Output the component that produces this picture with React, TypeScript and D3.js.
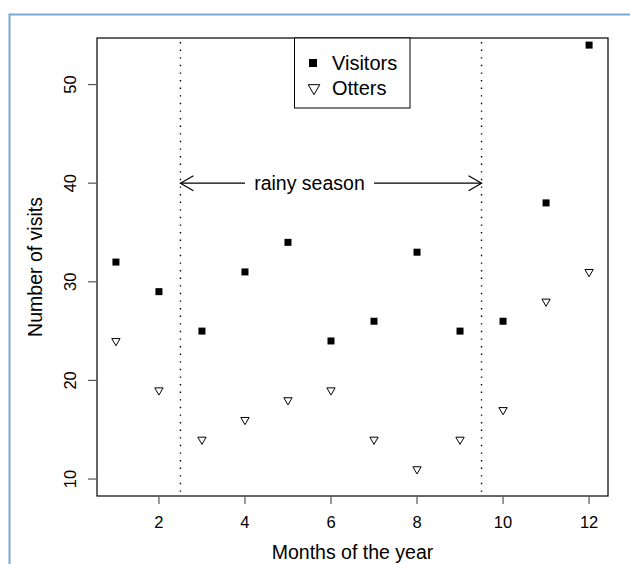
import React from 'react';
import * as d3 from 'd3';

const months = [1, 2, 3, 4, 5, 6, 7, 8, 9, 10, 11, 12];
const visitors = [32, 29, 25, 31, 34, 24, 26, 33, 25, 26, 38, 54];
const otters = [24, 19, 14, 16, 18, 19, 14, 11, 14, 17, 28, 31];
const xTicks = [2, 4, 6, 8, 10, 12];
const yTicks = [10, 20, 30, 40, 50];
const seasonBounds = [2.5, 9.5];

const width = 630;
const height = 564;
const font = '"Liberation Sans", Arial, Helvetica, sans-serif';

const App = () => {
  const margin = { top: 38, right: 22, bottom: 68, left: 97 };

  // R-style 4% padding around the data ranges
  const x = d3.scaleLinear().domain([0.56, 12.44]).range([margin.left, width - margin.right]);
  const y = d3.scaleLinear().domain([8.28, 54.72]).range([height - margin.bottom, margin.top]);

  const [x0, x1] = x.range();
  const [y0, y1] = y.range();

  const tri = d3.symbol().type(d3.symbolTriangle).size(30)();
  const legendTri = d3.symbol().type(d3.symbolTriangle).size(58)();
  const arrowY = y(40);

  const arrowHead = (tipX: number, dir: number) => {
    const len = 15;
    const ang = Math.PI / 6;
    const bx = tipX - dir * len * Math.cos(ang);
    const dy = len * Math.sin(ang);
    return `M${bx},${arrowY - dy}L${tipX},${arrowY}L${bx},${arrowY + dy}`;
  };

  return (
    <svg width={width} height={height} style={{ position: 'absolute', left: 0, top: 0, background: '#fff' }}
      fontFamily={font}>
      {/* frame */}
      <path d={`M9.5,${height}V14.5H${width}`} fill="none" stroke="#7ba7d3" strokeWidth={2} />

      {/* plot box */}
      <rect x={x0} y={y1} width={x1 - x0} height={y0 - y1} fill="none" stroke="#000" strokeWidth={1.2} />

      {/* season lines */}
      {seasonBounds.map((b) => (
        <line key={b} x1={x(b)} x2={x(b)} y1={y1 + 4} y2={y0} stroke="#000" strokeWidth={1.4}
          strokeDasharray="1.4 6.2" />
      ))}

      {/* arrows */}
      <line x1={x(4)} x2={x(2.5)} y1={arrowY} y2={arrowY} stroke="#000" strokeWidth={1.2} />
      <line x1={x(7)} x2={x(9.5)} y1={arrowY} y2={arrowY} stroke="#000" strokeWidth={1.2} />
      <path d={arrowHead(x(2.5), -1)} fill="none" stroke="#000" strokeWidth={1.2} />
      <path d={arrowHead(x(9.5), 1)} fill="none" stroke="#000" strokeWidth={1.2} />
      <text x={x(5.5)} y={arrowY} dy="0.35em" textAnchor="middle" fontSize={19.5}>rainy season</text>

      {/* x axis */}
      {xTicks.map((t) => (
        <g key={t}>
          <line x1={x(t)} x2={x(t)} y1={y0} y2={y0 + 8} stroke="#555" strokeWidth={1.2} />
          <text x={x(t)} y={y0 + 32} textAnchor="middle" fontSize={16.5}>{t}</text>
        </g>
      ))}
      <text x={(x0 + x1) / 2} y={559} textAnchor="middle" fontSize={19.5}>Months of the year</text>

      {/* y axis */}
      {yTicks.map((t) => (
        <g key={t}>
          <line x1={x0 - 9} x2={x0} y1={y(t)} y2={y(t)} stroke="#555" strokeWidth={1.2} />
          <text transform={`translate(${x0 - 21},${y(t)}) rotate(-90)`} textAnchor="middle" fontSize={16.5}>{t}</text>
        </g>
      ))}
      <text transform={`translate(42,${(y0 + y1) / 2}) rotate(-90)`} textAnchor="middle" fontSize={19.5}>
        Number of visits
      </text>

      {/* points */}
      {months.map((m, i) => (
        <rect key={`v${m}`} x={x(m) - 3.5} y={y(visitors[i]) - 3.5} width={7} height={7} fill="#000" />
      ))}
      {months.map((m, i) => (
        <path key={`o${m}`} d={tri} transform={`translate(${x(m)},${y(otters[i])}) rotate(180)`}
          fill="none" stroke="#000" strokeWidth={1} />
      ))}

      {/* legend */}
      <rect x={294.5} y={y1} width={115.5} height={70} fill="#fff" stroke="#000" strokeWidth={1} />
      <rect x={309} y={59} width={8} height={8} fill="#000" />
      <path d={legendTri} transform="translate(314,88) rotate(180)" fill="none" stroke="#000" strokeWidth={1} />
      <text x={332} y={70} fontSize={20}>Visitors</text>
      <text x={332} y={95} fontSize={20}>Otters</text>
    </svg>
  );
};

export default App;
